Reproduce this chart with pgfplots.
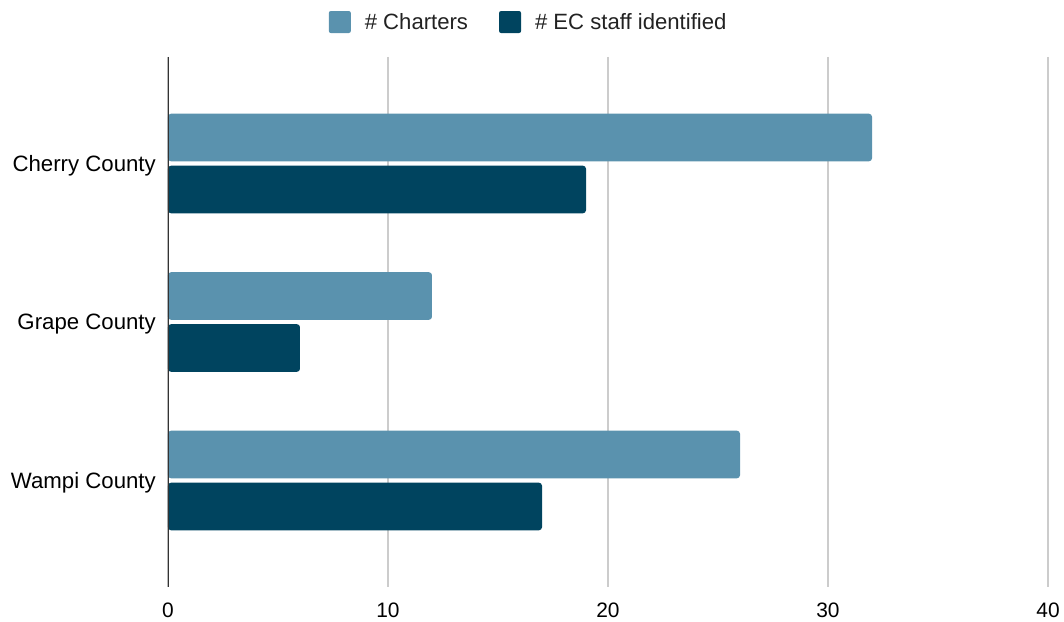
\documentclass[border=0pt]{standalone}
\usepackage{pgfplots}
\pgfplotsset{compat=1.18}
\usepackage{fontspec}
\setmainfont{Liberation Sans}
\definecolor{charters}{HTML}{5A92AE}
\definecolor{ecstaff}{HTML}{00445F}
\definecolor{gridc}{HTML}{CCCCCC}
\definecolor{txt}{HTML}{222222}
\definecolor{zeroc}{HTML}{333333}
\begin{document}
\begin{tikzpicture}
\path[use as bounding box] (-168bp,-35bp) rectangle (896bp,587bp);
\begin{axis}[
  at={(0,0)}, anchor=south west,
  scale only axis, width=880bp, height=530bp,
  xbar,
  xmin=0, xmax=40,
  ymin=-0.672, ymax=2.672, y dir=reverse,
  ytick={0,1,2},
  yticklabels={Cherry County, Grape County, Wampi County},
  xtick={0,10,20,30,40},
  axis line style={draw=none},
  major tick length=0pt,
  xmajorgrids, ymajorgrids=false,
  grid style={gridc, line width=1.5bp},
  yticklabel style={font=\fontsize{22.3}{26}\selectfont, text=black, inner sep=0pt, xshift=-12bp, yshift=-2bp},
  xticklabel style={font=\fontsize{21}{25}\selectfont, text=black, inner sep=0pt, yshift=-16bp},
  /pgf/number format/assume math mode=true,
  legend style={draw=none, fill=none, at={(0.4098,1.066)}, anchor=center,
    legend columns=2, font=\fontsize{22.2}{26}\selectfont, text=txt,
    /tikz/every odd column/.append style={column sep=12bp},
    /tikz/every even column/.append style={column sep=29bp}},
  legend image code/.code={\fill[#1, rounded corners=2bp] (0bp,-11bp) rectangle (22bp,11bp);},
]
\addplot[fill=charters, draw=none, bar width=0.3, bar shift=-0.164, rounded corners=3bp]
  coordinates {(32,0) (12,1) (26,2)};
\addlegendentry{\# Charters}
\addplot[fill=ecstaff, draw=none, bar width=0.3, bar shift=0.164, rounded corners=3bp]
  coordinates {(19,0) (6,1) (17,2)};
\addlegendentry{\# EC staff identified}
\draw[zeroc, line width=2bp] (axis cs:0,-0.672) -- (axis cs:0,2.672);
\end{axis}
\end{tikzpicture}
\end{document}
